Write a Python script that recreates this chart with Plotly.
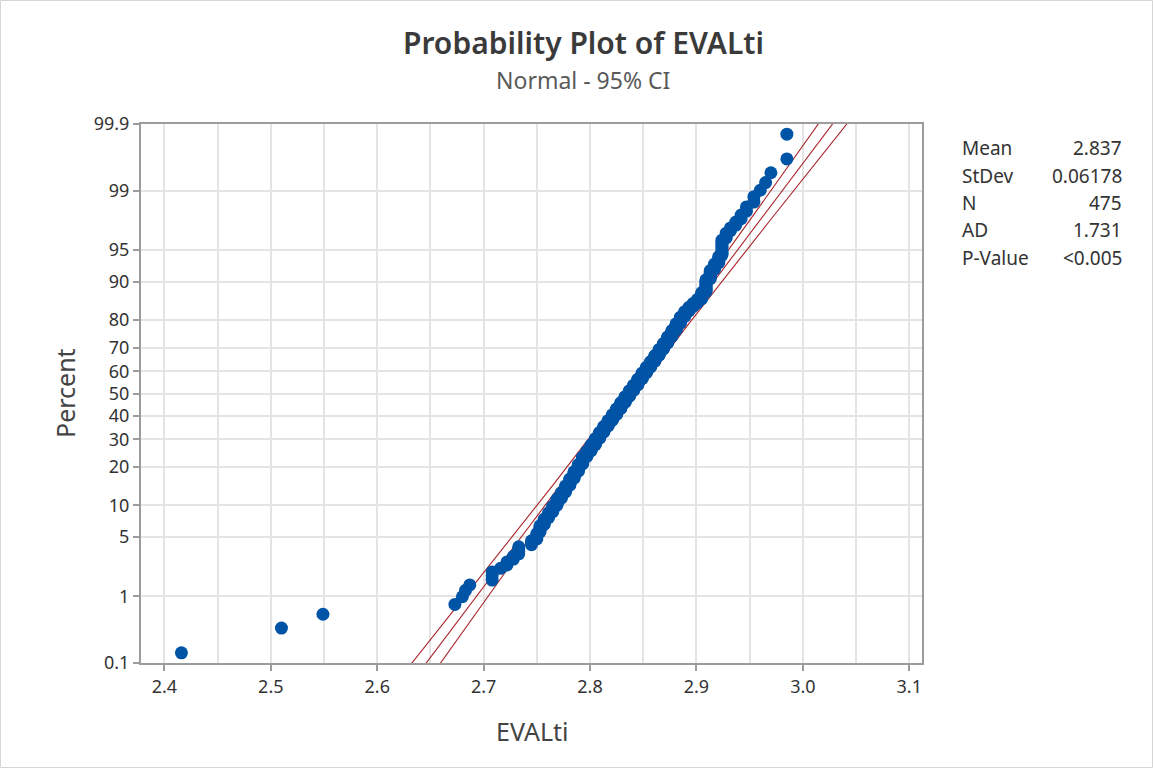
import numpy as np
import plotly.graph_objects as go
from statistics import NormalDist

# Distinct EVALti readings and how many observations share each one
evalti_values = [
    2.416, 2.510, 2.549, 2.673, 2.680, 2.683, 2.687, 2.708, 2.716, 2.722,
    2.728, 2.733, 2.745, 2.750, 2.753, 2.757, 2.761, 2.765, 2.769, 2.773,
    2.777, 2.781, 2.785, 2.789, 2.793, 2.797, 2.801, 2.805, 2.809, 2.813,
    2.817, 2.821, 2.825, 2.829, 2.833, 2.837, 2.841, 2.845, 2.849, 2.853,
    2.857, 2.861, 2.865, 2.869, 2.873, 2.877, 2.881, 2.885, 2.889, 2.893,
    2.897, 2.901, 2.905, 2.909, 2.913, 2.917, 2.921, 2.924, 2.928, 2.932,
    2.937, 2.942, 2.947, 2.954, 2.960, 2.965, 2.970, 2.985,
]
evalti_counts = [
    1, 1, 1, 1, 1, 1, 1, 3, 1, 2,
    2, 4, 3, 4, 5, 5, 5, 6, 7, 7,
    8, 9, 10, 11, 12, 10, 11, 12, 12, 12,
    12, 12, 13, 13, 13, 13, 12, 13, 13, 12,
    12, 12, 12, 11, 12, 11, 11, 10, 8, 6,
    5, 5, 8, 13, 8, 5, 5, 9, 3, 2,
    2, 2, 2, 2, 1, 1, 1, 2,
]

# Summary statistics of the normal fit
stat_labels = ["Mean", "StDev", "N", "AD", "P-Value"]
stat_texts = ["2.837", "0.06178", "475", "1.731", "<0.005"]
fit_mean = 2.837
fit_stdev = 0.06178
n_obs = 475

percent_ticks = [0.1, 1, 5, 10, 20, 30, 40, 50, 60, 70, 80, 90, 95, 99, 99.9]
percent_labels = ["0.1", "1", "5", "10", "20", "30", "40", "50", "60", "70",
                  "80", "90", "95", "99", "99.9"]
x_ticks = [2.4, 2.5, 2.6, 2.7, 2.8, 2.9, 3.0, 3.1]

nd = NormalDist()

# Ordered sample with median-rank plotting positions on a probit scale
sample = np.repeat(np.array(evalti_values), np.array(evalti_counts))
n = len(sample)
ranks = np.arange(1, n + 1)
positions = (ranks - 0.3) / (n + 0.4)
z_pts = np.array([nd.inv_cdf(p) for p in positions])

z_tickvals = [nd.inv_cdf(p / 100.0) for p in percent_ticks]
z_lo, z_hi = nd.inv_cdf(0.001), nd.inv_cdf(0.999)

# Fitted line and 95% confidence bounds for the percentiles
z_line = np.linspace(-3.4, 3.4, 241)
x_fit = fit_mean + fit_stdev * z_line
half_w = nd.inv_cdf(0.975) * fit_stdev * np.sqrt((1 + z_line ** 2 / 2) / n_obs)

line_color = "#a8232a"
dot_color = "#0054a6"
axis_color = "#9c9c9c"
grid_color = "#e4e4e4"
text_color = "#333333"
font_family = "Noto Sans, Open Sans, sans-serif"

fig = go.Figure()
for xs in (x_fit - half_w, x_fit, x_fit + half_w):
    fig.add_trace(go.Scatter(x=xs, y=z_line, mode="lines",
                             line=dict(color=line_color, width=1.1),
                             hoverinfo="skip", showlegend=False))

fig.add_trace(go.Scatter(x=sample, y=z_pts, mode="markers",
                         marker=dict(color=dot_color, size=13, line=dict(width=0)),
                         showlegend=False))

L, R, T, B = 141, 231, 124, 105
W, H = 1153, 768
pw, ph = W - L - R, H - T - B


def px_x(x):
    return (x - L) / pw


def px_y(y):
    return (H - B - y) / ph


annotations = [
    dict(text="Probability Plot of EVALti", x=px_x(583), y=px_y(43),
         xref="paper", yref="paper", showarrow=False, xanchor="center", yanchor="middle",
         font=dict(size=30, color="#3a3a3a", family=font_family, weight=600)),
    dict(text="Normal - 95% CI", x=px_x(583), y=px_y(80),
         xref="paper", yref="paper", showarrow=False, xanchor="center", yanchor="middle",
         font=dict(size=23, color="#5a5a5a", family=font_family)),
    dict(text="EVALti", x=px_x(532), y=px_y(731),
         xref="paper", yref="paper", showarrow=False, xanchor="center", yanchor="middle",
         font=dict(size=25, color="#444444", family=font_family)),
    dict(text="Percent", x=px_x(65), y=px_y(393), textangle=-90,
         xref="paper", yref="paper", showarrow=False, xanchor="center", yanchor="middle",
         font=dict(size=25, color="#444444", family=font_family)),
]
row_y = [148, 176, 203, 230, 258]
for lab, val, yy in zip(stat_labels, stat_texts, row_y):
    annotations.append(dict(text=lab, x=px_x(960), y=px_y(yy), xref="paper", yref="paper",
                            showarrow=False, xanchor="left", yanchor="middle",
                            font=dict(size=19, color=text_color, family=font_family)))
    annotations.append(dict(text=val, x=px_x(1124), y=px_y(yy), xref="paper", yref="paper",
                            showarrow=False, xanchor="right", yanchor="middle",
                            font=dict(size=19, color=text_color, family=font_family)))

fig.update_layout(
    width=W, height=H,
    margin=dict(l=L, r=R, t=T, b=B),
    paper_bgcolor="white", plot_bgcolor="white",
    annotations=annotations,
    shapes=[dict(type="rect", xref="paper", yref="paper",
                 x0=px_x(0.5), x1=px_x(W - 0.5), y0=px_y(H - 0.5), y1=px_y(0.5),
                 line=dict(color="#d6d6d6", width=1), layer="below")],
    xaxis=dict(range=[2.378, 3.112], tickvals=x_ticks, tickformat=".1f",
               showgrid=True, gridcolor=grid_color, gridwidth=1.5,
               minor=dict(dtick=0.05, tick0=2.4, showgrid=True, gridcolor=grid_color,
                          gridwidth=1.5, ticks=""),
               showline=True, linecolor=axis_color, linewidth=2, mirror=True,
               ticks="outside", ticklen=6, tickwidth=1.5, tickcolor=axis_color,
               tickfont=dict(size=18, color=text_color, family=font_family),
               zeroline=False),
    yaxis=dict(range=[z_lo, z_hi], tickvals=z_tickvals, ticktext=percent_labels,
               showgrid=True, gridcolor=grid_color, gridwidth=1.5,
               showline=True, linecolor=axis_color, linewidth=2, mirror=True,
               ticks="outside", ticklen=6, tickwidth=1.5, tickcolor=axis_color,
               tickfont=dict(size=18, color=text_color, family=font_family),
               zeroline=False),
    hovermode="closest",
)

fig.write_html("out.html")
